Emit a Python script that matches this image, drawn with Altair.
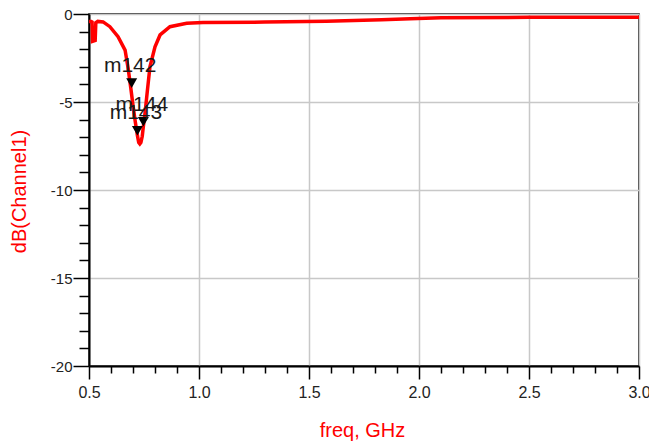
import altair as alt
import pandas as pd

# ---- data ----
FREQ = [0.500, 0.510, 0.514, 0.516, 0.528, 0.531, 0.540, 0.564, 0.595, 0.632,
        0.664, 0.678, 0.690, 0.700, 0.710, 0.720, 0.726, 0.731, 0.736, 0.742,
        0.747, 0.755, 0.765, 0.777, 0.800, 0.823, 0.868, 0.944, 1.018, 1.300,
        1.580, 1.830, 1.960, 2.100, 2.500, 3.000]
DB = [-0.42, -0.42, -0.45, -1.55, -1.50, -0.50, -0.42, -0.45, -0.72, -1.29,
      -2.05, -3.10, -4.20, -5.20, -6.10, -6.90, -7.30, -7.38, -7.30, -6.95,
      -6.40, -5.60, -4.40, -3.00, -1.86, -1.19, -0.72, -0.53, -0.48, -0.46,
      -0.41, -0.32, -0.27, -0.21, -0.19, -0.18]

MARKER_NAMES = ["m142", "m143", "m144"]
MARKER_FREQ = [0.694, 0.720, 0.747]
MARKER_DB = [-4.2, -6.9, -6.4]

X_TICKS = [0.5, 0.6, 0.7, 0.8, 0.9, 1.0, 1.1, 1.2, 1.3, 1.4, 1.5, 1.6, 1.7,
           1.8, 1.9, 2.0, 2.1, 2.2, 2.3, 2.4, 2.5, 2.6, 2.7, 2.8, 2.9, 3.0]
Y_TICKS = [-20, -19, -18, -17, -16, -15, -14, -13, -12, -11, -10, -9, -8, -7,
           -6, -5, -4, -3, -2, -1, 0]

curve = pd.DataFrame({"freq": FREQ, "db": DB})
markers = pd.DataFrame({"name": MARKER_NAMES, "freq": MARKER_FREQ, "db": MARKER_DB})

FONT = "Liberation Sans"
x_major = "abs(datum.value*2 - round(datum.value*2)) < 0.001"
y_major = "abs(datum.value % 5) < 0.001"

xscale = alt.Scale(domain=[0.5, 3.0], nice=False, zero=False)
yscale = alt.Scale(domain=[-20, 0], nice=False, zero=False)

xaxis = alt.Axis(
    values=X_TICKS, tickCount=200, title="freq, GHz",
    labelExpr=f"{x_major} ? format(datum.value, '.1f') : ''",
    labelOverlap=False, labelFlush=False, labelBound=False,
    tickSize={"condition": {"test": x_major, "value": 13}, "value": 7},
    tickColor="#000000", tickWidth=1.5,
    domainColor="#000000", domainWidth=2,
    grid=True, gridColor="#c8c8c8", gridWidth=1.5,
    gridOpacity={"condition": {"test": x_major, "value": 1}, "value": 0},
    labelFont=FONT, labelFontSize=16, labelColor="#222222", labelPadding=5,
    titleFont=FONT, titleFontSize=20, titleFontWeight="normal", titleColor="#ff0000",
    titleX=273, titleY=70, titleBaseline="alphabetic", titleAlign="center",
)
yaxis = alt.Axis(
    values=Y_TICKS, tickCount=200, title="dB(Channel1)",
    labelExpr=f"{y_major} ? (datum.value < 0 ? '-' + abs(datum.value) : '' + datum.value) : ''",
    labelOverlap=False, labelFlush=False, labelBound=False,
    tickSize={"condition": {"test": y_major, "value": 16}, "value": 10},
    tickColor="#000000", tickWidth=1.5,
    domainColor="#000000", domainWidth=2,
    grid=True, gridColor="#c8c8c8", gridWidth=1.5,
    gridOpacity={"condition": {"test": y_major, "value": 1}, "value": 0},
    labelFont=FONT, labelFontSize=15, labelColor="#222222", labelPadding=1,
    titleFont=FONT, titleFontSize=20, titleFontWeight="normal", titleColor="#ff0000",
    titleX=-70, titleY=177, titleAngle=270, titleBaseline="middle", titleAlign="center",
)

line = alt.Chart(curve).mark_line(color="#ff0000", strokeWidth=3.5).encode(
    x=alt.X("freq:Q", scale=xscale, axis=xaxis),
    y=alt.Y("db:Q", scale=yscale, axis=yaxis),
)

tri = alt.Chart(markers).mark_point(
    shape="triangle-down", filled=True, color="#000000", size=121, opacity=1, yOffset=-4.8
).encode(
    x=alt.X("freq:Q", scale=xscale),
    y=alt.Y("db:Q", scale=yscale),
)

labels = alt.Chart(markers).mark_text(
    font=FONT, fontSize=21, color="#1a1a1a", align="center", baseline="alphabetic",
    dx=-1.5, dy=-16,
).encode(
    x=alt.X("freq:Q", scale=xscale),
    y=alt.Y("db:Q", scale=yscale),
    text="name:N",
)

chart = alt.layer(line, tri, labels).properties(
    width=550, height=352,
    autosize=alt.AutoSizeParams(type="none"),
    padding={"left": 89, "top": 14, "right": 10, "bottom": 77},
    background="#ffffff",
).configure_view(stroke="#000000", strokeWidth=1.5)

chart.save("out.html", embed_options={"renderer": "svg", "actions": False})
